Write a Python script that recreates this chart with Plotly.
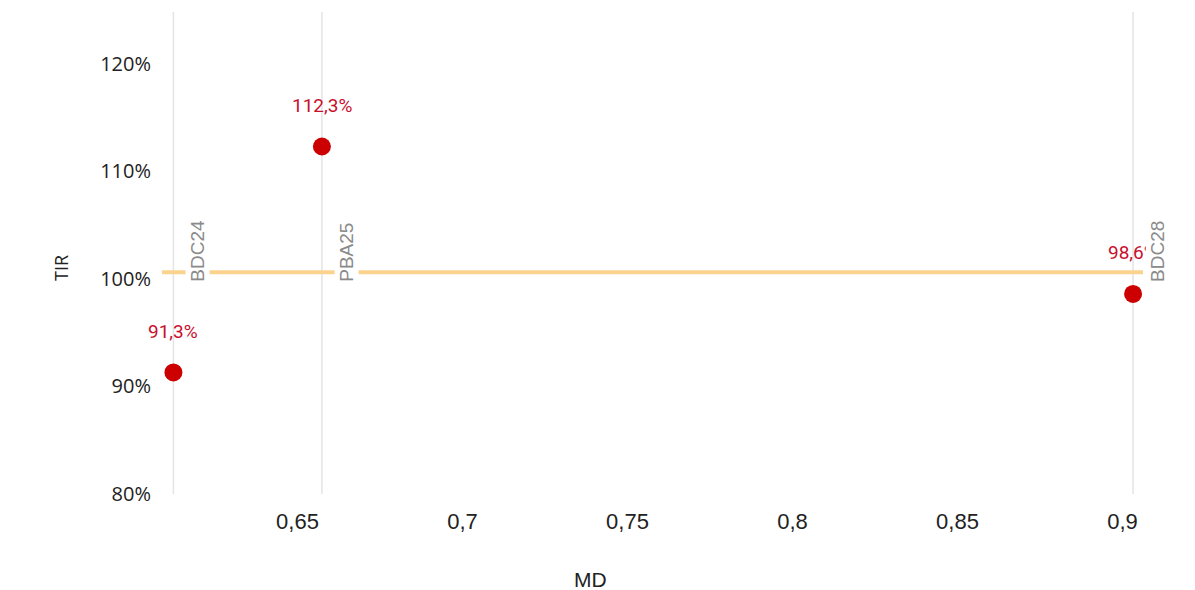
import plotly.graph_objects as go

bonds = ["BDC24", "PBA25", "BDC28"]
md = [0.6124, 0.6574, 0.9032]
tir = [0.913, 1.123, 0.986]
tir_labels = ["91,3%", "112,3%", "98,6%"]
ref_tir = 1.006

x_ticks = [0.65, 0.7, 0.75, 0.8, 0.85, 0.9]
y_ticks = [0.8, 0.9, 1.0, 1.1, 1.2]

RED = "#cc0000"
GRID = "#e4e4e4"

# page body adds an 8px margin, so the figure is drawn slightly smaller
W, H = 1187, 582
L, R, T, B = 154, 52, 4, 96

fig = go.Figure()

for x in md:
    fig.add_vline(x=x, line=dict(color=GRID, width=1.5), layer="below")

fig.add_hline(y=ref_tir, line=dict(color="#fbd38f", width=4), layer="below")

fig.add_trace(
    go.Scatter(
        x=md,
        y=tir,
        mode="markers",
        marker=dict(size=18, color=RED),
        showlegend=False,
        hoverinfo="skip",
    )
)

# data labels (sit well above the dots)
for x, y, t in zip(md, tir, tir_labels):
    fig.add_annotation(
        x=x, y=y, text=t, showarrow=False, yshift=41,
        font=dict(family="Roboto", size=19, color="#c8102e"),
    )

# bond names along the vertical lines
for x, name in zip(md, bonds):
    fig.add_annotation(
        x=x, y=1.0, text=name, textangle=-90, showarrow=False,
        xanchor="left", yanchor="bottom", xshift=12, yshift=-5,
        bgcolor="white", borderpad=1,
        font=dict(family="Liberation Sans", size=19, color="#8a8a8a"),
    )

# axis titles, placed by pixel position on the page
fig.add_annotation(
    x=(47 - 8 - L) / (W - L - R), y=(H - B - (268 - 8)) / (H - T - B),
    xref="paper", yref="paper", text="TIR", textangle=-90,
    showarrow=False, font=dict(family="Open Sans", size=18, color="#222"),
)
fig.add_annotation(
    x=(590 - 8 - L) / (W - L - R), y=(H - B - (566 - 8)) / (H - T - B),
    xref="paper", yref="paper", text="MD", yanchor="top",
    showarrow=False, font=dict(family="Liberation Sans", size=21, color="#222"),
)

fig.update_layout(
    width=W,
    height=H,
    margin=dict(l=L, r=R, t=T, b=B),
    paper_bgcolor="white",
    plot_bgcolor="white",
    separators=",.",
    xaxis=dict(
        range=[0.60894, 0.90621],
        tickvals=x_ticks,
        showgrid=False,
        zeroline=False,
        showline=False,
        ticks="",
        ticklabelstandoff=12,
        tickfont=dict(family="Liberation Sans", size=22, color="#222"),
    ),
    yaxis=dict(
        range=[0.80, 1.248],
        tickvals=y_ticks,
        tickformat=".0%",
        showgrid=False,
        zeroline=False,
        showline=False,
        ticks="",
        ticklabelstandoff=10,
        tickfont=dict(family="Open Sans", size=20, color="#222"),
    ),
)

fig.write_html("out.html")
